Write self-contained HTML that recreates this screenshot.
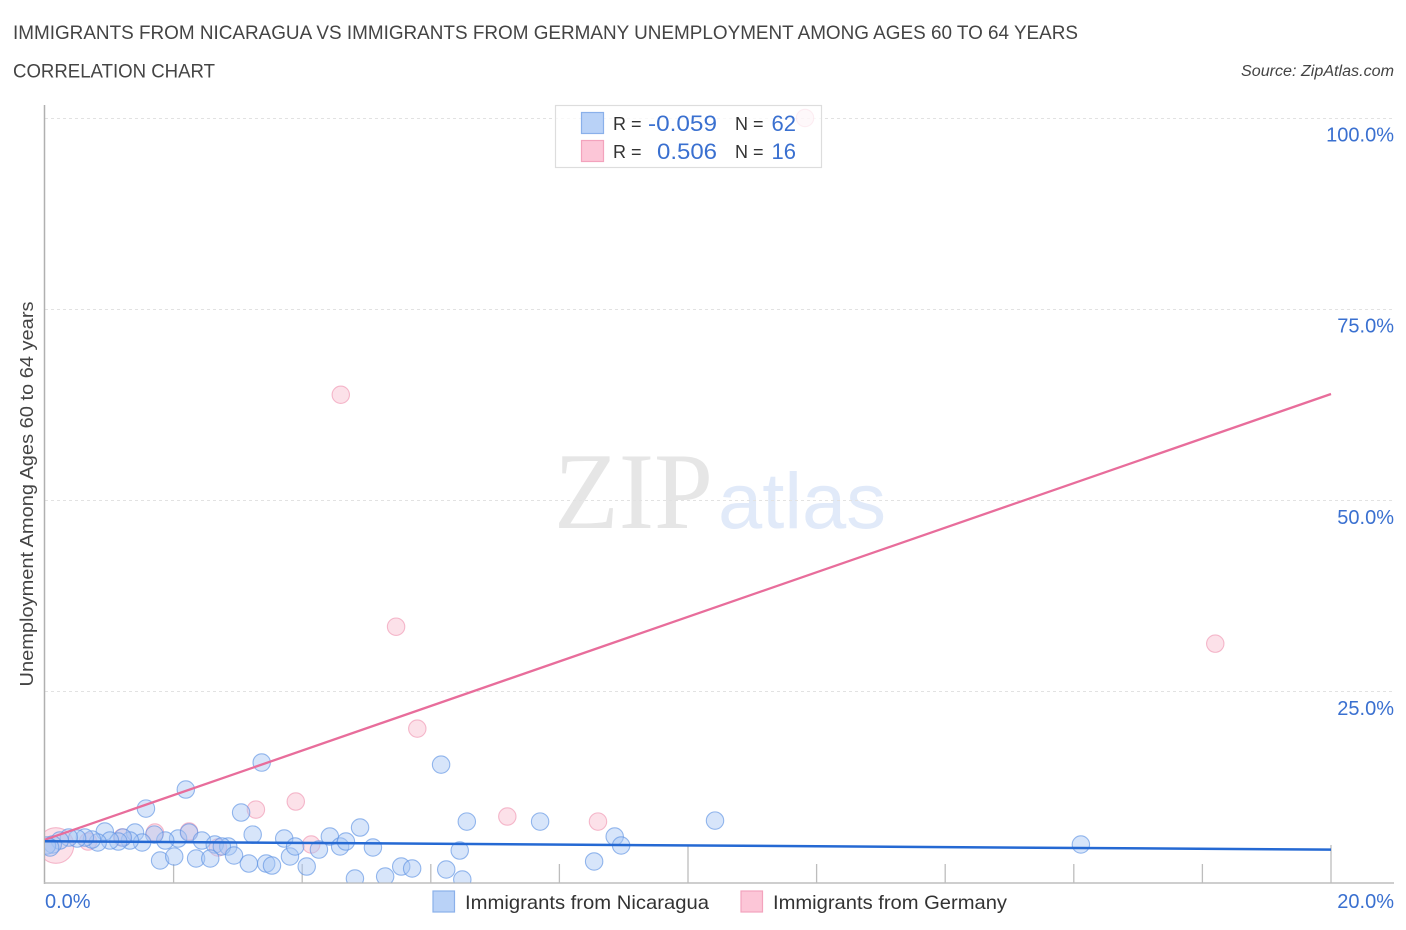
<!DOCTYPE html>
<html lang="en">
<head>
<meta charset="utf-8">
<title>Immigrants from Nicaragua vs Immigrants from Germany Unemployment Correlation Chart</title>
<style>
html,body{margin:0;padding:0;background:#fff;}
svg{display:block;}
text{font-family:"Liberation Sans",sans-serif;}
</style>
</head>
<body>
<svg id="chart" xmlns="http://www.w3.org/2000/svg" width="1406" height="930" viewBox="0 0 1406 930">
  <defs>
    <clipPath id="plot-clip"><rect x="45" y="100" width="1349" height="782.5"/></clipPath>
  </defs>
  <rect x="0" y="0" width="1406" height="930" fill="#ffffff"/>
  <text x="13" y="39" font-size="19" fill="#444" textLength="1065" lengthAdjust="spacingAndGlyphs">IMMIGRANTS FROM NICARAGUA VS IMMIGRANTS FROM GERMANY UNEMPLOYMENT AMONG AGES 60 TO 64 YEARS</text>
  <text x="13" y="77.5" font-size="19" fill="#444" textLength="202" lengthAdjust="spacingAndGlyphs">CORRELATION CHART</text>
  <text x="1394" y="76" font-size="15.5" font-style="italic" fill="#444" text-anchor="end" textLength="153" lengthAdjust="spacingAndGlyphs">Source: ZipAtlas.com</text>

  <g>
    <text x="554" y="528" font-size="109" fill="#e6e6e6" style="font-family:'Liberation Serif',serif" textLength="159" lengthAdjust="spacingAndGlyphs">ZIP</text>
    <text x="718" y="528" font-size="79" fill="#e1eaf9" style="font-family:'Liberation Sans',sans-serif" textLength="168" lengthAdjust="spacingAndGlyphs">atlas</text>
  </g>

  <g id="grid"></g>
  <g id="axes"></g>
  <g id="points" clip-path="url(#plot-clip)"></g>
  <g id="trends"></g>
  <g id="tick-labels"></g>

  <text transform="translate(33,494) rotate(-90)" font-size="18.5" fill="#444" text-anchor="middle" textLength="385" lengthAdjust="spacingAndGlyphs">Unemployment Among Ages 60 to 64 years</text>

  <g>
    <rect x="555.5" y="105.5" width="266" height="62" fill="#ffffff" fill-opacity="0.75" stroke="#dddddd" stroke-width="1.2"/>
    <rect x="581.5" y="112.5" width="22" height="21" fill="#b9d2f7" stroke="#8ab0ea" stroke-width="1.2"/>
    <rect x="581.5" y="140.5" width="22" height="21" fill="#fcc6d7" stroke="#f3a3bd" stroke-width="1.2"/>
    <text x="613" y="130" font-size="18" fill="#333">R =</text>
    <text x="717" y="131" font-size="22" fill="#3a70d0" text-anchor="end" textLength="69" lengthAdjust="spacingAndGlyphs">-0.059</text>
    <text x="735" y="130" font-size="18" fill="#333">N =</text>
    <text x="796" y="131" font-size="22" fill="#3a70d0" text-anchor="end">62</text>
    <text x="613" y="158" font-size="18" fill="#333">R =</text>
    <text x="717" y="159" font-size="22" fill="#3a70d0" text-anchor="end" textLength="60" lengthAdjust="spacingAndGlyphs">0.506</text>
    <text x="735" y="158" font-size="18" fill="#333">N =</text>
    <text x="796" y="159" font-size="22" fill="#3a70d0" text-anchor="end">16</text>
  </g>

  <g>
    <rect x="433" y="891" width="21.5" height="21" fill="#b9d2f7" stroke="#8ab0ea" stroke-width="1.2"/>
    <text x="465" y="909" font-size="19.5" fill="#333" textLength="244" lengthAdjust="spacingAndGlyphs">Immigrants from Nicaragua</text>
    <rect x="741" y="891" width="21.5" height="21" fill="#fcc6d7" stroke="#f3a3bd" stroke-width="1.2"/>
    <text x="773" y="909" font-size="19.5" fill="#333" textLength="234" lengthAdjust="spacingAndGlyphs">Immigrants from Germany</text>
  </g>

<script>
var nicaraguaX = [3.37,2.19,1.57,3.05,0.93,1.40,3.23,3.72,4.43,4.90,2.07,1.87,2.24,1.70,2.44,2.64,2.85,2.75,1.51,1.32,1.21,1.14,1.01,0.82,0.73,0.62,0.50,0.37,0.23,0.12,0.03,0.08,1.79,2.01,2.35,2.57,2.94,3.17,3.44,3.53,3.81,3.89,4.07,4.26,4.59,4.68,5.10,4.82,5.29,6.16,6.56,7.70,10.42,8.86,8.96,8.54,6.45,6.24,6.49,5.54,5.71,16.11];
var nicaraguaY = [15.69,12.16,9.67,9.15,6.67,6.54,6.27,5.75,6.01,7.19,5.75,5.49,6.54,6.27,5.49,4.97,4.71,4.71,5.23,5.49,5.88,5.36,5.49,5.23,5.62,5.88,5.75,5.88,5.49,4.97,4.84,4.58,2.88,3.40,3.14,3.14,3.53,2.48,2.48,2.22,3.40,4.71,2.09,4.31,4.71,5.36,4.58,0.52,0.78,15.42,7.97,7.97,8.10,6.01,4.84,2.75,4.18,1.70,0.39,2.09,1.83,4.97];
var germanyX = [11.82,4.60,5.46,18.20,5.79,3.90,3.28,7.19,8.60,2.24,1.71,1.20,4.14,2.69,0.67,0.17];
var germanyY = [100.0,63.8,33.46,31.24,20.13,10.59,9.54,8.63,7.97,6.67,6.54,5.88,4.97,4.58,5.36,4.84];
var germanyWeight = [1,1,1,1,1,1,1,1,1,1,1,1,1,1,1,4.2];
var nicaraguaTrend = [5.4,4.3];
var germanyTrend = [5.6,63.9];
var trendDomain = [0,20];
var xTickValues = [0,2,4,6,8,10,12,14,16,18,20];
var xMajorTicks = [0,10,20];
var xEdgeLabels = ["0.0%","20.0%"];
var yGridValues = [100,75,50,25];
var yTickLabels = ["100.0%","75.0%","50.0%","25.0%"];

var NS = "http://www.w3.org/2000/svg";
function xScale(v){ return 45 + v * 64.3; }
function yScale(v){ return 882.5 - v * 7.645; }
function radius(w){ return 8.7 * Math.sqrt(w); }
function make(tag, parent){
  var el = document.createElementNS(NS, tag);
  parent.appendChild(el);
  return el;
}

var gridG = document.getElementById("grid");
yGridValues.forEach(function(v){
  var el = make("line", gridG);
  
  
  var gy = Math.floor(yScale(v)) + 0.5;
  el.setAttribute("x1", 45);
  el.setAttribute("x2", 1394);
  el.setAttribute("y1", gy);
  el.setAttribute("y2", gy);
  el.setAttribute("stroke", "#e2e2e2");
  el.setAttribute("stroke-width", 1);
  el.setAttribute("stroke-dasharray", "3 3");
});

var axesG = document.getElementById("axes");
var yAxis = make("line", axesG);


yAxis.setAttribute("x1", 44.5);
yAxis.setAttribute("x2", 44.5);
yAxis.setAttribute("y1", 105);
yAxis.setAttribute("y2", 884);
yAxis.setAttribute("stroke", "#b0b0b0");
yAxis.setAttribute("stroke-width", 1.5);
var xAxis = make("line", axesG);


xAxis.setAttribute("x1", 44);
xAxis.setAttribute("x2", 1394);
xAxis.setAttribute("y1", 883);
xAxis.setAttribute("y2", 883);
xAxis.setAttribute("stroke", "#bdbdbd");
xAxis.setAttribute("stroke-width", 1.5);
xTickValues.forEach(function(v){
  if (v === 0) return;
  var tick = make("line", axesG);
  
  
  var major = xMajorTicks.indexOf(v) >= 0;
  tick.setAttribute("x1", xScale(v));
  tick.setAttribute("x2", xScale(v));
  tick.setAttribute("y1", major ? 845 : 864);
  tick.setAttribute("y2", 883);
  tick.setAttribute("stroke", "#bdbdbd");
  tick.setAttribute("stroke-width", 1.3);
});

var pointsG = document.getElementById("points");
germanyX.forEach(function(v, i){
  var c = make("circle", pointsG);
  
  
  c.setAttribute("cx", xScale(v));
  c.setAttribute("cy", yScale(germanyY[i]));
  c.setAttribute("r", radius(germanyWeight[i]));
  c.setAttribute("fill", "#f8b4c9");
  c.setAttribute("fill-opacity", 0.4);
  c.setAttribute("stroke", "#ee8fae");
  c.setAttribute("stroke-opacity", 0.6);
  c.setAttribute("stroke-width", 1.1);
});
nicaraguaX.forEach(function(v, i){
  var c = make("circle", pointsG);
  
  
  c.setAttribute("cx", xScale(v));
  c.setAttribute("cy", yScale(nicaraguaY[i]));
  c.setAttribute("r", radius(1));
  c.setAttribute("fill", "#a6c6f4");
  c.setAttribute("fill-opacity", 0.45);
  c.setAttribute("stroke", "#5f93e4");
  c.setAttribute("stroke-opacity", 0.65);
  c.setAttribute("stroke-width", 1.1);
});

var trendsG = document.getElementById("trends");
var germanyLine = make("line", trendsG);


germanyLine.setAttribute("x1", xScale(trendDomain[0]));
germanyLine.setAttribute("x2", xScale(trendDomain[1]));
germanyLine.setAttribute("y1", yScale(germanyTrend[0]));
germanyLine.setAttribute("y2", yScale(germanyTrend[1]));
germanyLine.setAttribute("stroke", "#e86d9b");
germanyLine.setAttribute("stroke-width", 2.3);
var nicaraguaLine = make("line", trendsG);


nicaraguaLine.setAttribute("x1", xScale(trendDomain[0]));
nicaraguaLine.setAttribute("x2", xScale(trendDomain[1]));
nicaraguaLine.setAttribute("y1", yScale(nicaraguaTrend[0]));
nicaraguaLine.setAttribute("y2", yScale(nicaraguaTrend[1]));
nicaraguaLine.setAttribute("stroke", "#2569d3");
nicaraguaLine.setAttribute("stroke-width", 2.5);

var labelsG = document.getElementById("tick-labels");
yTickLabels.forEach(function(label, i){
  var t = make("text", labelsG);
  
  
  t.setAttribute("x", 1394);
  t.setAttribute("y", yScale(yGridValues[i]) + 23.5);
  t.setAttribute("font-size", 20);
  t.setAttribute("fill", "#3a70d0");
  t.setAttribute("text-anchor", "end");
  t.textContent = label;
});
var xLabelLeft = make("text", labelsG);


xLabelLeft.setAttribute("x", 45);
xLabelLeft.setAttribute("y", 908);
xLabelLeft.setAttribute("font-size", 20);
xLabelLeft.setAttribute("fill", "#3a70d0");
xLabelLeft.textContent = xEdgeLabels[0];
var xLabelRight = make("text", labelsG);


xLabelRight.setAttribute("x", 1394);
xLabelRight.setAttribute("y", 908);
xLabelRight.setAttribute("font-size", 20);
xLabelRight.setAttribute("fill", "#3a70d0");
xLabelRight.setAttribute("text-anchor", "end");
xLabelRight.textContent = xEdgeLabels[1];
</script>
</svg>
</body>
</html>
